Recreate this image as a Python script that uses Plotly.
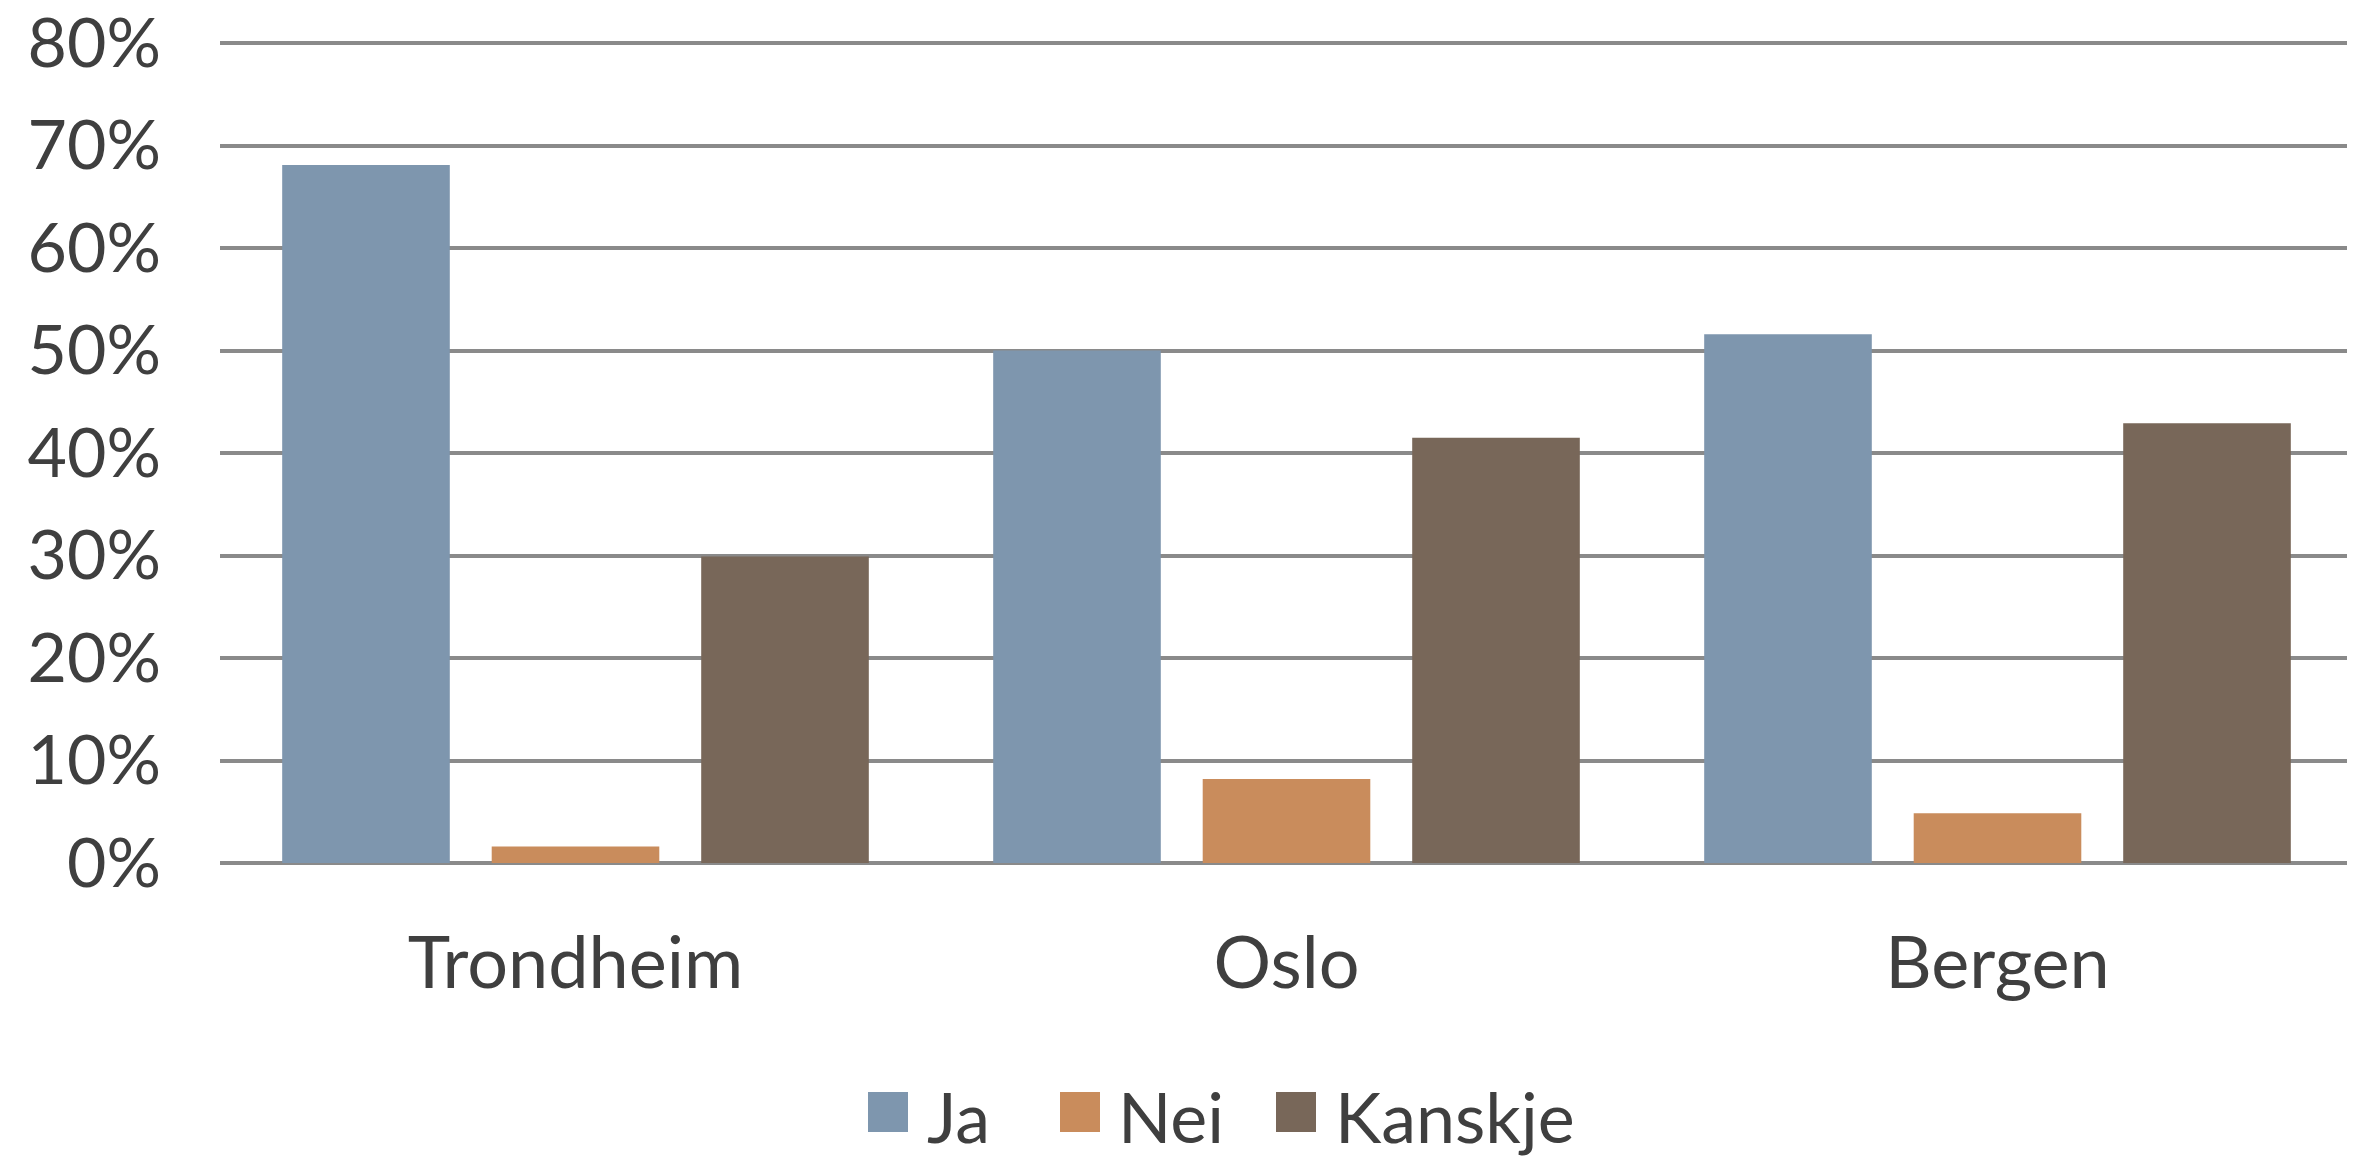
import plotly.graph_objects as go

categories = ["Trondheim", "Oslo", "Bergen"]
ja = [0.681, 0.500, 0.516]
nei = [0.016, 0.082, 0.0485]
kanskje = [0.299, 0.415, 0.429]
series_names = ["Ja", "Nei", "Kanskje"]
colors = ["#7E96AE", "#C98C5C", "#786759"]
y_ticks = [0, 0.1, 0.2, 0.3, 0.4, 0.5, 0.6, 0.7, 0.8]

OFF = 8  # default page body margin
YMAX = 0.806
PX_PER_UNIT = 820 / 0.8

W, H = 2355 - OFF, 1158 - OFF
L = 220 - OFF
R = W - (2353 - OFF)
B = H - (863 - OFF)
T = H - B - int(round(YMAX * PX_PER_UNIT))
PW = W - L - R
PH = H - T - B

FONT = "Lato"
TXT = "#3f3f3f"
GRID = "#8a8a8a"

fig = go.Figure()
for name, vals, col in zip(series_names, [ja, nei, kanskje], colors):
    fig.add_trace(go.Bar(x=categories, y=vals, name=name, marker_color=col,
                         marker_line_width=0, showlegend=False))

def px_x(px):
    return (px - OFF - L) / PW

def px_y(py):
    return (H - B - (py - OFF)) / PH

# manual legend (large square keys), positions in page pixels
legend_items = [("Ja", 868, 925), ("Nei", 1060, 1116), ("Kanskje", 1276, 1333)]
shapes = []
annotations = []
for (label, sq_x, tx_x), col in zip(legend_items, colors):
    shapes.append(dict(type="rect", xref="paper", yref="paper",
                       x0=px_x(sq_x), x1=px_x(sq_x + 40),
                       y0=px_y(1132), y1=px_y(1092),
                       fillcolor=col, line=dict(width=0)))
    annotations.append(dict(text=label, xref="paper", yref="paper",
                            x=px_x(tx_x), y=px_y(1116), xanchor="left",
                            yanchor="middle", showarrow=False,
                            font=dict(family=FONT, size=70, color=TXT)))

fig.update_layout(
    width=W, height=H,
    margin=dict(l=L, r=R, t=T, b=B, pad=0, autoexpand=False),
    paper_bgcolor="white", plot_bgcolor="white",
    barmode="group", bargap=0.116, bargroupgap=0.2,
    font=dict(family=FONT, size=64, color=TXT),
    shapes=shapes, annotations=annotations,
    showlegend=False,
)
fig.update_xaxes(showgrid=False, showline=False, zeroline=False, ticks="",
                 automargin=False,
                 tickfont=dict(family=FONT, size=72, color=TXT),
                 ticklabelstandoff=52)
fig.update_yaxes(range=[0, YMAX], tickvals=y_ticks, automargin=False,
                 tickformat=".0%", ticklabeloverflow="allow",
                 showgrid=True, gridcolor=GRID, gridwidth=3.5,
                 zeroline=True, zerolinecolor=GRID, zerolinewidth=3.5,
                 showline=False, ticks="",
                 tickfont=dict(family=FONT, size=68, color=TXT),
                 ticklabelstandoff=58)

fig.write_html("out.html")
